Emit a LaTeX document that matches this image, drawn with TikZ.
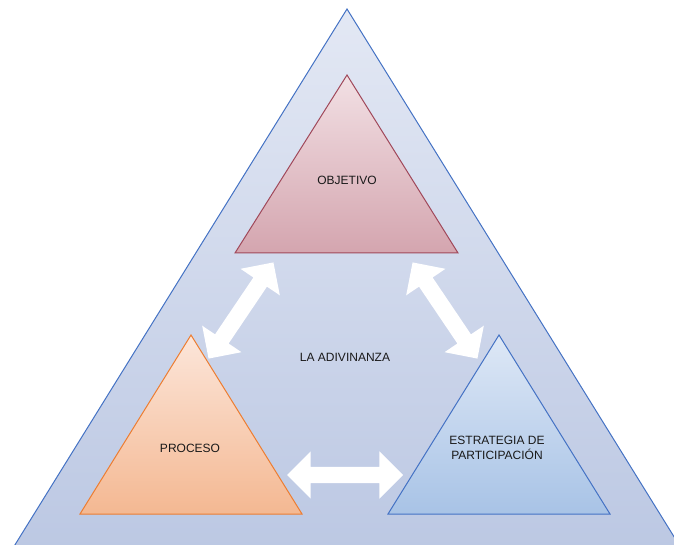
\documentclass[tikz,border=0pt]{standalone}
\usepackage{fontspec}
\setmainfont{Liberation Sans}
\usepackage{tikz}
\usetikzlibrary{shapes.arrows,positioning}
\definecolor{outerEdge}{HTML}{4472C4}
\definecolor{outerTop}{HTML}{E3E8F4}
\definecolor{outerBot}{HTML}{BCC8E3}
\definecolor{objEdge}{HTML}{A0485A}
\definecolor{objTop}{HTML}{F2E0E4}
\definecolor{objBot}{HTML}{D4A5AF}
\definecolor{proEdge}{HTML}{ED7D31}
\definecolor{proTop}{HTML}{FCE6DA}
\definecolor{proBot}{HTML}{F4B892}
\definecolor{estEdge}{HTML}{4472C4}
\definecolor{estTop}{HTML}{DEE8F6}
\definecolor{estBot}{HTML}{A8C3E6}

\begin{document}
\begin{tikzpicture}[x=1pt,y=-1pt,
              tri/.style={line width=1pt, line join=miter},
              lbl/.style={font=\fontsize{12}{14.5}\selectfont, text=black!90, align=center},
              dblarrow/.style={double arrow, fill=white, draw=none, inner sep=8pt,
                               minimum height=116pt, double arrow head extend=15.5pt},
             ]

\clip (0,0) rectangle (674,545);

% big triangle
\shade[tri, draw=outerEdge, top color=outerTop, bottom color=outerBot]
  (347,9) -- (681,548) -- (13,548) -- cycle;

% inner triangles
\shade[tri, draw=objEdge, top color=objTop, bottom color=objBot]
  (347,75) -- (458,253) -- (235,253) -- cycle;
\shade[tri, draw=proEdge, top color=proTop, bottom color=proBot]
  (191,335) -- (302,514) -- (80,514) -- cycle;
\shade[tri, draw=estEdge, top color=estTop, bottom color=estBot]
  (499,335) -- (610,514) -- (388,514) -- cycle;

\node[lbl] (objetivo) at (347,180) {OBJETIVO};
\node[lbl] (proceso) at (190,448) {PROCESO};
\node[lbl] (estrategia) at (497,448) {ESTRATEGIA DE\\PARTICIPACIÓN};
\node[lbl] (adivinanza) at (345,357) {LA ADIVINANZA};

\node[dblarrow, rotate=56] (arrowLeft) at (241,310.5) {};
\node[dblarrow, rotate=-56] (arrowRight) at (445,310.5) {};
\node[dblarrow] (arrowBottom) at (345,475) {};
\end{tikzpicture}
\end{document}
